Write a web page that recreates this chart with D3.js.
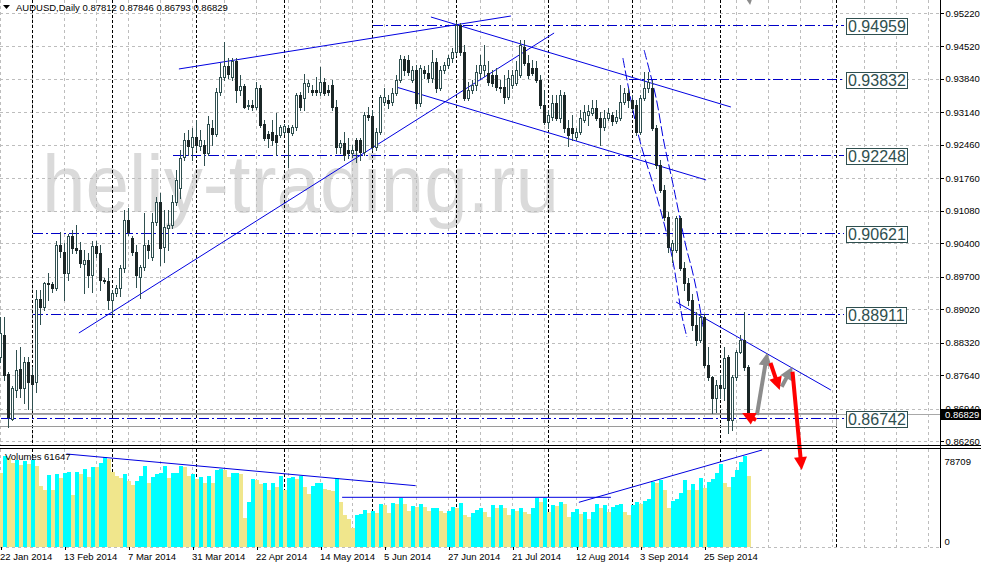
<!DOCTYPE html>
<html>
<head>
<meta charset="utf-8">
<script src="https://cdn.jsdelivr.net/npm/d3@7"></script>
<style>
html,body{margin:0;padding:0;background:#ffffff;}
svg{display:block;font-family:"Liberation Sans",Arial,sans-serif;}
</style>
</head>
<body>
<svg id="chart" width="981" height="568"></svg>
<script>
// ---------------- DATA ----------------
const symbol = "AUDUSD,Daily";
const startDate = "2014-01-22";   // first visible trading day
const watermark = "heliy-trading.ru";

const opens = [
.8802,.8848,.8766,.8672,.8733,.8777,.8737,.8791,.8764,.8749,
.8923,.8906,.8957,.8955,.8946,.9036,.9022,.8978,.9055,.9030,
.9026,.8996,.9005,.8973,.9034,.9019,.8963,.8961,.8921,.8936,
.8946,.8988,.9089,.9051,.9022,.8969,.8990,.9036,.9011,.9084,
.9126,.9032,.9072,.9078,.9126,.9156,.9220,.9256,.9241,.9262,
.9243,.9246,.9229,.9281,.9269,.9357,.9388,.9411,.9388,.9421,
.9361,.9369,.9327,.9329,.9325,.9365,.9290,.9269,.9273,.9267,
.9267,.9273,.9281,.9271,.9283,.9350,.9344,.9369,.9361,.9361,
.9357,.9378,.9361,.9371,.9325,.9241,.9250,.9235,.9229,.9256,
.9256,.9231,.9308,.9306,.9241,.9273,.9336,.9340,.9336,.9354,
.9382,.9426,.9424,.9382,.9403,.9334,.9403,.9396,.9386,.9419,
.9365,.9403,.9413,.9428,.9440,.9497,.9440,.9344,.9361,.9371,
.9396,.9403,.9396,.9392,.9392,.9367,.9367,.9346,.9371,.9375,
.9392,.9451,.9417,.9407,.9407,.9382,.9329,.9294,.9304,.9334,
.9302,.9350,.9281,.9281,.9262,.9273,.9298,.9308,.9313,.9323,
.9302,.9283,.9302,.9308,.9296,.9302,.9336,.9354,.9340,.9329,
.9273,.9344,.9365,.9365,.9281,.9204,.9151,.9095,.9026,.9026,
.9093,.8988,.8957,.8921,.8869,.8837,.8885,.8785,.8760,.8716,
.8743,.8737,.8802,.8670,.8760,.8812,.8837,.87812];
const highs = [
.8885,.8885,.8770,.8741,.8816,.8823,.8802,.8802,.8781,.8942,
.8942,.8959,.8978,.8959,.9045,.9063,.9040,.9059,.9068,.9078,
.9042,.9026,.9019,.9045,.9045,.9036,.8967,.8988,.8942,.8952,
.8994,.9110,.9114,.9055,.9036,.8994,.9103,.9047,.9103,.9137,
.9145,.9110,.9110,.9141,.9193,.9235,.9271,.9277,.9281,.9298,
.9277,.9256,.9306,.9298,.9365,.9417,.9461,.9428,.9428,.9428,
.9392,.9373,.9340,.9340,.9378,.9371,.9298,.9275,.9298,.9313,
.9287,.9290,.9287,.9287,.9354,.9357,.9394,.9382,.9371,.9388,
.9409,.9386,.9371,.9382,.9340,.9256,.9273,.9260,.9246,.9260,
.9260,.9315,.9325,.9319,.9281,.9350,.9365,.9350,.9365,.9392,
.9434,.9432,.9434,.9411,.9413,.9413,.9411,.9413,.9445,.9428,
.9411,.9419,.9434,.9449,.9503,.9501,.9455,.9378,.9382,.9413,
.9434,.9455,.9421,.9403,.9407,.9382,.9392,.9403,.9403,.9421,
.9465,.9465,.9434,.9424,.9421,.9392,.9361,.9319,.9350,.9350,
.9361,.9357,.9298,.9308,.9281,.9319,.9329,.9329,.9340,.9340,
.9315,.9319,.9323,.9315,.9319,.9371,.9365,.9365,.9350,.9340,
.9350,.9398,.9398,.9382,.9287,.9214,.9162,.9105,.9047,.9097,
.9097,.9001,.8967,.8934,.8896,.8892,.8892,.8823,.8762,.8754,
.8764,.8823,.8806,.8764,.8816,.8848,.8896,.87846];
const lows = [
.8791,.8754,.8655,.8670,.8718,.8718,.8705,.8693,.8691,.8728,
.8871,.8900,.8921,.8938,.8942,.9011,.8921,.8963,.9019,.9019,
.8990,.8936,.8948,.8938,.9011,.8942,.8957,.8902,.8890,.8929,
.8929,.8980,.9057,.9015,.8948,.8925,.8984,.9009,.9005,.9078,
.8994,.9001,.9026,.9072,.9120,.9135,.9214,.9225,.9214,.9235,
.9235,.9204,.9225,.9246,.9264,.9350,.9382,.9386,.9382,.9336,
.9350,.9323,.9321,.9319,.9321,.9283,.9256,.9241,.9246,.9225,
.9262,.9269,.9200,.9267,.9277,.9319,.9319,.9357,.9350,.9350,
.9350,.9350,.9350,.9319,.9229,.9229,.9214,.9218,.9220,.9210,
.9214,.9225,.9298,.9235,.9235,.9269,.9329,.9323,.9329,.9350,
.9378,.9392,.9392,.9378,.9323,.9327,.9386,.9378,.9378,.9357,
.9361,.9396,.9407,.9419,.9434,.9434,.9340,.9340,.9354,.9361,
.9386,.9390,.9371,.9369,.9361,.9357,.9334,.9342,.9365,.9371,
.9388,.9413,.9386,.9392,.9378,.9323,.9290,.9281,.9298,.9298,
.9294,.9273,.9243,.9256,.9256,.9269,.9294,.9287,.9308,.9298,
.9246,.9277,.9298,.9287,.9292,.9298,.9332,.9325,.9319,.9267,
.9269,.9340,.9357,.9277,.9197,.9147,.9089,.9022,.9001,.9022,
.8984,.8942,.8911,.8858,.8827,.8833,.8781,.8754,.8684,.8686,
.8716,.8712,.8642,.8649,.8754,.8810,.8774,.86793];
const closes = [
.8852,.8764,.8676,.8737,.8774,.8737,.8791,.8749,.8745,.8923,
.8906,.8957,.8955,.8946,.9036,.9024,.8978,.9055,.9030,.9026,
.8999,.9005,.8973,.9034,.9019,.8963,.8961,.8921,.8936,.8946,
.8988,.9089,.9063,.9022,.8973,.8990,.9036,.9026,.9084,.9126,
.9030,.9074,.9078,.9126,.9172,.9218,.9256,.9243,.9262,.9246,
.9256,.9229,.9290,.9269,.9357,.9388,.9411,.9394,.9421,.9361,
.9369,.9325,.9329,.9325,.9365,.9287,.9260,.9260,.9256,.9252,
.9283,.9285,.9273,.9283,.9350,.9325,.9375,.9375,.9357,.9357,
.9378,.9354,.9357,.9325,.9241,.9250,.9225,.9229,.9235,.9235,
.9231,.9308,.9304,.9241,.9273,.9346,.9346,.9334,.9354,.9382,
.9426,.9403,.9398,.9403,.9334,.9407,.9396,.9386,.9419,.9365,
.9403,.9413,.9428,.9440,.9497,.9440,.9344,.9361,.9371,.9398,
.9413,.9413,.9378,.9375,.9367,.9365,.9346,.9386,.9392,.9403,
.9455,.9417,.9392,.9396,.9382,.9329,.9294,.9308,.9334,.9302,
.9350,.9281,.9267,.9271,.9273,.9302,.9315,.9317,.9323,.9302,
.9283,.9302,.9313,.9296,.9304,.9336,.9354,.9340,.9323,.9273,
.9344,.9365,.9378,.9281,.9204,.9151,.9095,.9032,.9040,.9093,
.8988,.8957,.8921,.8869,.8837,.8885,.8785,.8760,.8716,.8743,
.8737,.8800,.8670,.8760,.8812,.8837,.8781,.86829];
const volumes = [
63600,78600,76600,72300,75200,70800,74600,71400,75200,70000,
52700,49200,62200,49200,63100,59900,64200,64800,44900,64500,
63100,67100,60800,69400,68800,72900,77500,75700,65100,61300,
59300,63100,57300,53600,57300,61300,69900,55000,60800,63100,
64200,69900,59300,63600,64200,69900,69400,61300,63100,58500,
60200,55600,61300,55600,66500,67100,66500,60200,63600,64200,
63100,24800,39200,58500,57900,54400,55600,49200,55000,52100,
61300,49200,59300,60200,58500,61300,52100,45500,52700,55000,
55600,49800,49200,48700,59300,39200,27600,23900,16100,27600,
28200,32000,29700,31100,29100,37200,36300,29700,37700,37200,
42600,37200,31400,35700,34800,37200,34800,31400,33400,34000,
31400,29700,31400,34800,33400,38300,27600,26200,29700,32000,
33400,30500,26200,36000,33400,36000,33400,27600,32800,31400,
33700,30500,28500,33400,42600,38600,42600,30500,36300,35400,
38900,37200,26200,30500,32500,28500,30500,24200,30500,37200,
33700,36300,30500,34800,36000,37200,30500,27600,36300,38900,
37200,40000,41500,56400,55600,57900,49200,33400,40000,41200,
46400,57900,49200,54400,49200,59300,50700,56400,58500,63600,
71700,55000,52100,60800,66500,73700,78709,61647];

const priceTicks = [0.95220,0.94520,0.93840,0.93140,0.92460,0.91760,0.91080,0.90400,0.89700,0.89020,0.88320,0.87640,0.86940,0.86260];
const priceMax = 0.95220, priceMin = 0.86260;   // price scale extent (top / bottom tick)
const volumeMax = 78709;
const volumeTicks = [78709, 0];

// horizontal price levels (bar index where each line starts)
const levels     = [0.94959, 0.93832, 0.92248, 0.90621, 0.88911, 0.86742];
const levelStart = [93, 157, 43, 8, 8, 0];
const levelEnd   = 211;

// trend lines: [bar index, price] anchors
const trendLines = [
  [[44.6,0.94048],[127.6,0.95157]],
  [[19.6,0.88521],[138.4,0.94801]],
  [[107.6,0.95136],[182.6,0.93252]],
  [[98.9,0.93671],[176.4,0.91724]],
  [[168.9,0.89170],[207.6,0.87327]]
];
const channelCurves = [
  [[155.6,0.94278],[159.6,0.92624],[164.1,0.91368],[167.9,0.90112],[170.4,0.88856],[171.6,0.88437]],
  [[160.9,0.94445],[163.9,0.93441],[165.9,0.92498],[167.9,0.91724],[171.4,0.90321],[172.9,0.89840],[174.4,0.89253],[175.9,0.88521]]
];
// volume-window lines: [bar index, volume]
const volumeLines = [
  [[16.5,80440],[103.8,53020]],
  [[85.4,42990],[152.6,42990]],
  [[144.6,38660],[190.4,83900]]
];
// rectangle zone: [from index, to index, top price, bottom price]
const zone = [-1, 209, 0.86852, 0.86580];
// forecast arrows: [from [index, price], to [index, price]]
const grayArrows = [
  [[189.1,0.86804],[191.7,0.88108]],
  [[195.3,0.87397],[198.0,0.87815]],
  [[185.8,0.9640],[187.4,0.9539]]
];
const redArrows = [
  [[188.9,0.86700],[185.4,0.86846]],
  [[192.5,0.87893],[194.8,0.87327]],
  [[198.0,0.87711],[200.3,0.85653]]
];

// ---------------- BUILD ----------------
const n = closes.length;
const svg = d3.select("#chart");
const plotRight = 940, mainBottom = 445, volTop = 449, volBottom = 547;
const totalSlots = 236;

// trading dates (Mon-Fri), then calendar days for the empty future area
const dates = [];
let cur = d3.timeParse("%Y-%m-%d")(startDate);
while (dates.length < n) {
  const wd = cur.getDay();
  if (wd !== 0 && wd !== 6) dates.push(new Date(cur));
  cur = d3.timeDay.offset(cur, 1);
}
const slots = dates.slice();
cur = d3.timeDay.offset(dates[n-1], 1);
while (slots.length < totalSlots) { slots.push(new Date(cur)); cur = d3.timeDay.offset(cur, 1); }

const x = d3.scaleLinear().domain([0, 1]).range([0.5, 4.5]);
const y = d3.scaleLinear().domain([priceMax, priceMin]).range([13, 441]);
const vy = d3.scaleLinear().domain([0, volumeMax]).range([volBottom, 456]);

const GRID = "#bdbdbd", BLUE = "#0000e0", LVL = "#0000c8", CANDLE = "#2f4f4f", BEAR = "#1b2626";

svg.append("rect").attr("width", 981).attr("height", 568).attr("fill", "#fff");

// watermark
svg.append("text").attr("x", 42).attr("y", 212)
  .attr("font-size", 82).attr("fill", "#dadada")
  .attr("textLength", 517).attr("lengthAdjust", "spacingAndGlyphs")
  .text(watermark);

// grids
const g = svg.append("g").attr("shape-rendering", "crispEdges");
priceTicks.forEach(p => {
  g.append("line").attr("x1", 0).attr("x2", plotRight).attr("y1", Math.round(y(p)) + 0.5).attr("y2", Math.round(y(p)) + 0.5)
    .attr("stroke", GRID).attr("stroke-dasharray", "3,3");
});
d3.range(0, totalSlots, 8).forEach(i => {
  [[0, mainBottom], [volTop, volBottom]].forEach(([a, b]) => {
    g.append("line").attr("x1", x(i)).attr("x2", x(i)).attr("y1", a).attr("y2", b)
      .attr("stroke", GRID).attr("stroke-dasharray", "3,3");
  });
});
g.append("line").attr("x1", 0).attr("x2", plotRight).attr("y1", volBottom + 0.5).attr("y2", volBottom + 0.5)
  .attr("stroke", GRID).attr("stroke-dasharray", "3,3");

// month separators
const seps = d3.range(1, totalSlots).filter(i => slots[i].getMonth() !== slots[i-1].getMonth());
seps.forEach(i => {
  [[0, mainBottom], [volTop, volBottom]].forEach(([a, b]) => {
    g.append("line").attr("x1", x(i)).attr("x2", x(i)).attr("y1", a).attr("y2", b)
      .attr("stroke", "#000").attr("stroke-dasharray", "3,2");
  });
});

// zone rectangle and bid line
g.append("rect").attr("x", x(zone[0])).attr("y", Math.round(y(zone[2])) + 0.5)
  .attr("width", x(zone[1]) - x(zone[0])).attr("height", Math.round(y(zone[3]) - y(zone[2])))
  .attr("fill", "none").attr("stroke", "#9a9a9a");
g.append("line").attr("x1", 0).attr("x2", plotRight)
  .attr("y1", Math.round(y(closes[n-1])) + 0.5).attr("y2", Math.round(y(closes[n-1])) + 0.5)
  .attr("stroke", "#a8a8a8");

// levels
const fmt5 = d3.format(".5f");
levels.forEach((p, k) => {
  const yy = Math.round(y(p)) + 0.5;
  g.append("line").attr("x1", x(levelStart[k])).attr("x2", x(levelEnd) - 0.5).attr("y1", yy).attr("y2", yy)
    .attr("stroke", LVL).attr("stroke-dasharray", "10,3,2,3");
  const bx = x(levelEnd) + 2;
  const t = svg.append("text").attr("x", bx + 1.5).attr("y", yy + 6.5).attr("font-size", 16)
    .attr("fill", "#2f4f4f").text(fmt5(p));
  const w = t.node().getComputedTextLength();
  svg.insert("rect", () => t.node()).attr("x", bx).attr("y", yy - 7).attr("width", Math.round(w + 3)).attr("height", 16)
    .attr("fill", "#fff").attr("stroke", "#2f4f4f").attr("shape-rendering", "crispEdges");
});

// trend lines
const lineGen = d3.line().x(d => x(d[0])).y(d => y(d[1]));
trendLines.forEach(l => svg.append("path").attr("d", lineGen(l)).attr("fill", "none").attr("stroke", BLUE).attr("stroke-width", 1));
channelCurves.forEach(l => svg.append("path").attr("d", d3.line().curve(d3.curveCatmullRom).x(d => x(d[0])).y(d => y(d[1]))(l))
  .attr("fill", "none").attr("stroke", BLUE).attr("stroke-width", 1).attr("stroke-dasharray", "10,3"));

// candles
const cg = svg.append("g").attr("shape-rendering", "crispEdges");
for (let i = 0; i < n; i++) {
  const cx = x(i);
  const o = opens[i], c = closes[i];
  cg.append("line").attr("x1", cx).attr("x2", cx).attr("y1", Math.round(y(highs[i]))).attr("y2", Math.round(y(lows[i])) + 1)
    .attr("stroke", CANDLE);
  const top = Math.round(y(Math.max(o, c))), bot = Math.round(y(Math.min(o, c)));
  if (c < o) {
    cg.append("rect").attr("x", cx - 1.5).attr("y", top).attr("width", 3).attr("height", Math.max(1, bot - top + 1))
      .attr("fill", BEAR);
  } else {
    cg.append("rect").attr("x", cx - 1).attr("y", top + 0.5).attr("width", 2).attr("height", Math.max(0.01, bot - top))
      .attr("fill", "#fff").attr("stroke", CANDLE);
  }
}

// volumes
const vg = svg.append("g").attr("shape-rendering", "crispEdges");
volumes.forEach((v, i) => {
  const up = i > 0 && v > volumes[i-1];
  const t = Math.round(vy(v));
  vg.append("rect").attr("x", x(i) - 1.5).attr("y", t).attr("width", 4).attr("height", volBottom - t)
    .attr("fill", up ? "#00ffff" : "#f0e68c");
});
const vLine = d3.line().x(d => x(d[0])).y(d => vy(d[1]));
volumeLines.forEach(l => svg.append("path").attr("d", vLine(l)).attr("fill", "none").attr("stroke", BLUE));

// arrows
function arrow(a, color) {
  const x1 = x(a[0][0]), y1 = y(a[0][1]), x2 = x(a[1][0]), y2 = y(a[1][1]);
  const L = Math.hypot(x2 - x1, y2 - y1), ux = (x2 - x1) / L, uy = (y2 - y1) / L;
  const hl = 13, hw = 6.5;
  const bxp = x2 - ux * hl, byp = y2 - uy * hl;
  if (L > hl) svg.append("line").attr("x1", x1).attr("y1", y1).attr("x2", bxp + ux * 2).attr("y2", byp + uy * 2)
    .attr("stroke", color).attr("stroke-width", 4);
  svg.append("path").attr("d", `M${x2},${y2}L${bxp - uy * hw},${byp + ux * hw}L${bxp + uy * hw},${byp - ux * hw}Z`)
    .attr("fill", color);
}
grayArrows.forEach(a => arrow(a, "#8c8c8c"));
redArrows.forEach(a => arrow(a, "#ff0000"));

// panel frame
const fg = svg.append("g").attr("shape-rendering", "crispEdges");
fg.append("line").attr("x1", 0).attr("x2", 981).attr("y1", 445.5).attr("y2", 445.5).attr("stroke", "#000");
fg.append("line").attr("x1", 0).attr("x2", 981).attr("y1", 448.5).attr("y2", 448.5).attr("stroke", "#000");
fg.append("line").attr("x1", plotRight + 0.5).attr("x2", plotRight + 0.5).attr("y1", 0).attr("y2", volBottom + 1).attr("stroke", "#000");

// price axis
const pa = svg.append("g").attr("transform", `translate(${plotRight + 0.5},0)`)
  .call(d3.axisRight(y).tickValues(priceTicks).tickFormat(fmt5).tickSize(3).tickPadding(2));
pa.select(".domain").remove();
pa.selectAll("text").attr("font-size", 9.5).attr("font-family", "Liberation Sans, Arial, sans-serif").attr("fill", "#000");
pa.selectAll("line").attr("stroke", "#000").attr("shape-rendering", "crispEdges");

// current price label (covers most of the tick label just above it, as in the platform)
const cy = Math.round(y(closes[n-1]));
svg.append("rect").attr("x", plotRight + 1).attr("y", cy - 5).attr("width", 40).attr("height", 11).attr("fill", "#000");
svg.append("text").attr("x", plotRight + 5).attr("y", cy + 4).attr("font-size", 9.5).attr("fill", "#fff").text(fmt5(closes[n-1]));

// volume axis
const va = svg.append("g").attr("transform", `translate(${plotRight + 0.5},0)`)
  .call(d3.axisRight(vy).tickValues(volumeTicks).tickFormat(d3.format("d")).tickSize(0).tickPadding(4));
va.select(".domain").remove();
va.selectAll("text").attr("font-size", 9.5).attr("font-family", "Liberation Sans, Arial, sans-serif").attr("fill", "#000");
va.selectAll(".tick").filter(d => d === volumeMax).select("text").attr("dy", "0.9em");
va.selectAll(".tick").filter(d => d === 0).select("text").attr("dy", "-0.25em");

// time axis
const labelIdx = d3.range(0, n, 16);
const fmtDate = d3.timeFormat("%-d %b %Y");
const ta = svg.append("g").attr("transform", `translate(0,${volBottom})`)
  .call(d3.axisBottom(x).tickValues(labelIdx).tickFormat(i => fmtDate(dates[i])).tickSize(3).tickPadding(3));
ta.select(".domain").remove();
ta.selectAll("text").attr("font-size", 9.5).attr("font-family", "Liberation Sans, Arial, sans-serif")
  .attr("fill", "#000").attr("text-anchor", "start").attr("dx", -1);
ta.selectAll("line").attr("stroke", "#000").attr("shape-rendering", "crispEdges");

// header
svg.append("path").attr("d", "M3,5L10,5L6.5,9Z").attr("fill", "#000");
svg.append("text").attr("x", 16).attr("y", 11).attr("font-size", 9.5).attr("fill", "#000")
  .text(`${symbol} ${fmt5(opens[n-1])} ${fmt5(highs[n-1])} ${fmt5(lows[n-1])} ${fmt5(closes[n-1])}`);
svg.append("text").attr("x", 5).attr("y", 460).attr("font-size", 9.5).attr("fill", "#000")
  .text(`Volumes ${volumes[n-1]}`);
</script>
</body>
</html>
